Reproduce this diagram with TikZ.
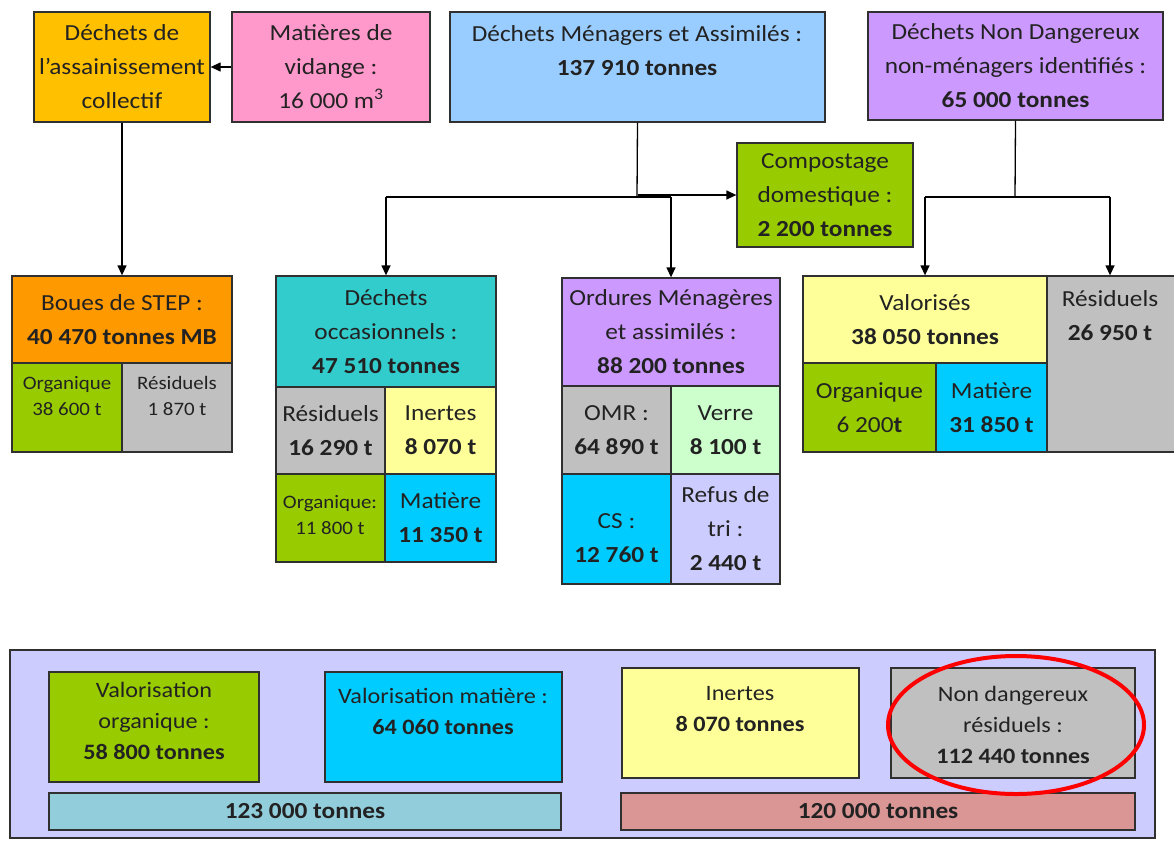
\documentclass[tikz,border=0pt]{standalone}
\usepackage{fontspec}
\setmainfont{Carlito}[FakeStretch=1.1]
\usetikzlibrary{arrows.meta,shapes.geometric}
\definecolor{cgold}{HTML}{FFC000}
\definecolor{cpink}{HTML}{FF99CC}
\definecolor{clblue}{HTML}{99CCFF}
\definecolor{cpurple}{HTML}{CC99FF}
\definecolor{cgreen}{HTML}{99CC00}
\definecolor{corange}{HTML}{FF9900}
\definecolor{cgray}{HTML}{C0C0C0}
\definecolor{cteal}{HTML}{33CCCC}
\definecolor{clyellow}{HTML}{FFFF99}
\definecolor{ccyan}{HTML}{00CCFF}
\definecolor{clgreen}{HTML}{CCFFCC}
\definecolor{clav}{HTML}{CCCCFF}
\definecolor{cbar}{HTML}{92CDDC}
\definecolor{crose}{HTML}{D99694}
\definecolor{ctext}{HTML}{222222}
\definecolor{cline}{HTML}{303030}
\newcommand\mkbox[7]{\node[cell,fill=#6,minimum width={(#4-#2)*1pt},minimum height={(#5-#3)*1pt}] (#1) at ({(#2+#4)/2},{(#3+#5)/2}) {#7};}
\begin{document}
\begin{tikzpicture}[x=1pt,y=-1pt,
  cell/.style={draw=cline,line width=1.3pt,inner sep=0pt,align=center,text=ctext,
    font=\fontsize{23}{34}\selectfont},
  txt/.style={inner sep=0pt,align=center,text=ctext,font=\fontsize{23}{34}\selectfont},
  small/.style={font=\fontsize{19}{26}\selectfont},
  bot/.style={font=\fontsize{22}{31}\selectfont},
  arr/.style={draw=black,line width=1.3pt,-{Triangle[length=10pt,width=9pt]}},
  ln/.style={draw=black,line width=1.3pt}]
\useasboundingbox (0,0) rectangle (1174,841);
\fill[white] (0,0) rectangle (1174,841);
% top row
\mkbox{dac}{34}{12}{210}{122}{cgold}{Déchets de\\l’assainissement\\collectif}
\mkbox{mat}{232}{12}{430}{122}{cpink}{Matières de\\vidange :\\16 000 m\textsuperscript{3}}
\mkbox{dma}{450}{12}{825}{122}{clblue}{}
\node[txt] (dmat) at (637,51) {Déchets Ménagers et Assimilés :\\\textbf{137 910 tonnes}};
\mkbox{dnd}{868}{12}{1163}{120}{cpurple}{Déchets Non Dangereux\\non-ménagers identifiés :\\\textbf{65 000 tonnes}}
\mkbox{comp}{737}{143}{913}{247}{cgreen}{Compostage\\domestique :\\\textbf{2 200 tonnes}}
% Boues
\mkbox{boues}{12}{276}{232}{363}{corange}{Boues de STEP :\\\textbf{40 470 tonnes MB}}
\mkbox{bo1}{12}{363}{122}{452}{cgreen}{}
\mkbox{bo2}{122}{363}{232}{452}{cgray}{}
\node[txt,small] (bo1t) at (67,396) {Organique\\38 600 t};
\node[txt,small] (bo2t) at (177,396) {Résiduels\\1 870 t};
% Dechets occasionnels
\mkbox{docc}{276}{276}{496}{387}{cteal}{Déchets\\occasionnels :\\\textbf{47 510 tonnes}}
\mkbox{do1}{276}{387}{385}{474}{cgray}{Résiduels\\\textbf{16 290 t}}
\mkbox{do2}{385}{387}{496}{474}{clyellow}{Inertes\\\textbf{8 070 t}}
\mkbox{do3}{276}{474}{385}{562}{cgreen}{}
\node[txt,small] (do3t) at (330,515) {Organique:\\11 800 t};
\mkbox{do4}{385}{474}{496}{562}{ccyan}{Matière\\\textbf{11 350 t}}
% Ordures
\mkbox{om}{562}{278}{780}{386}{cpurple}{Ordures Ménagères\\et assimilés :\\\textbf{88 200 tonnes}}
\mkbox{om1}{562}{386}{671}{474}{cgray}{OMR :\\\textbf{64 890 t}}
\mkbox{om2}{671}{386}{780}{474}{clgreen}{Verre\\\textbf{8 100 t}}
\mkbox{om3}{562}{474}{671}{584}{ccyan}{\mbox{}\\CS :\\\textbf{12 760 t}}
\mkbox{om4}{671}{474}{780}{584}{clav}{Refus de\\tri :\\\textbf{2 440 t}}
% Valorises
\mkbox{val}{803}{276}{1047}{363}{clyellow}{Valorisés\\\textbf{38 050 tonnes}}
\mkbox{va1}{803}{363}{936}{452}{cgreen}{Organique\\6 200\textbf{t}}
\mkbox{va2}{936}{363}{1047}{452}{ccyan}{Matière\\\textbf{31 850 t}}
\mkbox{res}{1047}{276}{1178}{452}{cgray}{}
\node[txt] (rest) at (1110,316) {Résiduels\\\textbf{26 950 t}};
% connectors
\draw[arr] (mat.west) -- (dac.east);
\draw[arr] (dac.south) -- (boues.north);
\coordinate (j1) at (637,197);
\coordinate (j1l) at (386,197);
\coordinate (j1r) at (671,197);
\draw[ln] (dma.south) -- (j1);
\draw[ln] (j1l) -- (j1r);
\draw[arr] (j1l) -- (docc.north);
\draw[arr] (j1r) -- (om.north);
\draw[arr] (dma.south |- comp.west) -- (comp.west);
\coordinate (j2) at (1015,197);
\coordinate (j2l) at (925,197);
\coordinate (j2r) at (1110,197);
\draw[ln] (dnd.south) -- (j2);
\draw[ln] (j2l) -- (j2r);
\draw[arr] (j2l) -- (val.north);
\draw[arr] (j2r) -- (res.north -| j2r);
% bottom panel
\mkbox{panel}{10}{650}{1155}{838}{clav}{}
\mkbox{borg}{49}{672}{259}{782}{cgreen}{}
\node[txt,bot] (borgt) at (154,721) {Valorisation\\organique :\\\textbf{58 800 tonnes}};
\mkbox{bmat}{325}{672}{562}{782}{ccyan}{}
\node[txt,bot] (bmatt) at (443,711) {Valorisation matière :\\\textbf{64 060 tonnes}};
\mkbox{bin}{622}{668}{859}{778}{clyellow}{}
\node[txt,bot] (bint) at (740,709) {Inertes\\\textbf{8 070 tonnes}};
\mkbox{bnd}{891}{668}{1135}{778}{cgray}{}
\node[txt,bot] (bndt) at (1013,725) {Non dangereux\\résiduels :\\\textbf{112 440 tonnes}};
\mkbox{bar1}{49}{793}{561}{830}{cbar}{\textbf{123 000 tonnes}}
\mkbox{bar2}{621}{793}{1135}{830}{crose}{\textbf{120 000 tonnes}}
\node[draw=red,line width=4pt,ellipse,minimum width=256pt,minimum height=138pt,inner sep=0pt] (ring) at (1016,725) {};
\end{tikzpicture}
\end{document}
